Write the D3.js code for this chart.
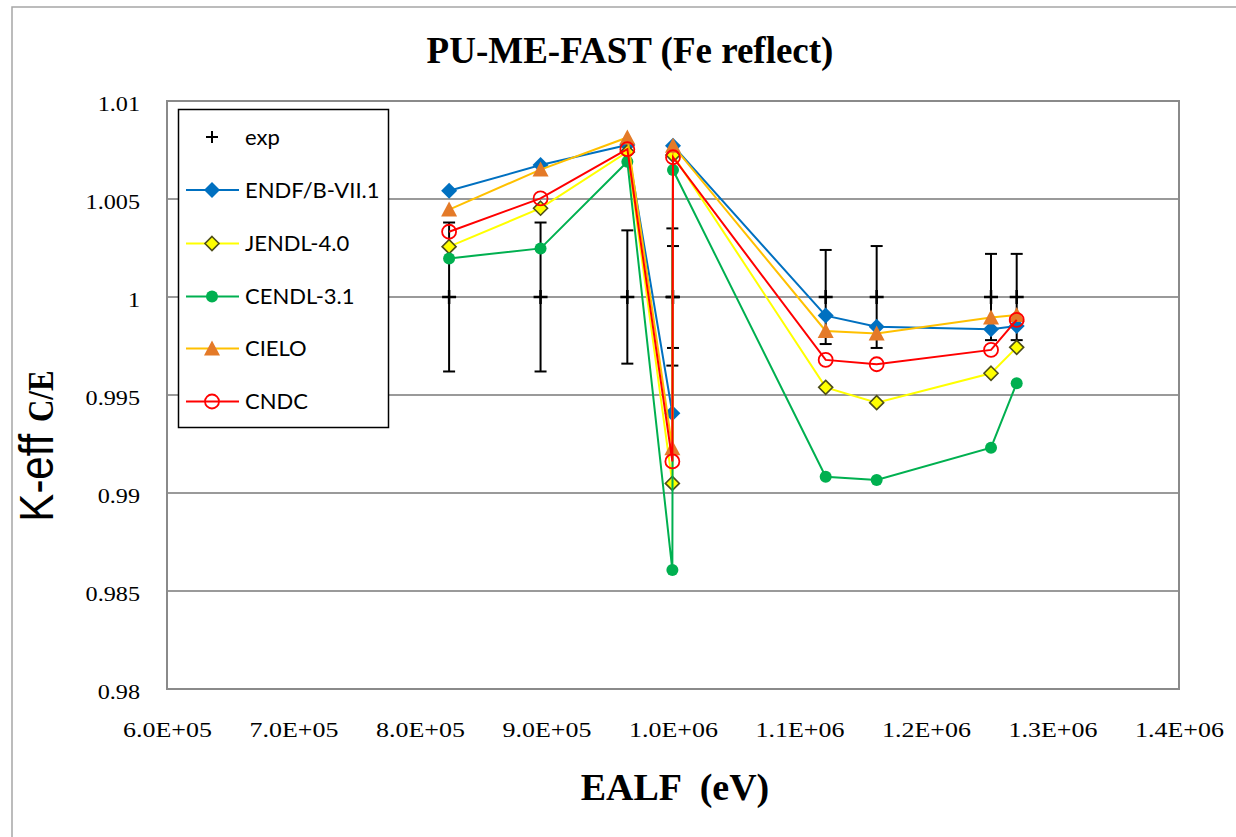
<!DOCTYPE html>
<html>
<head>
<meta charset="utf-8">
<script src="https://cdn.jsdelivr.net/npm/d3@7"></script>
<style>
  html, body { margin: 0; padding: 0; background: #fff; }
  svg { display: block; }
</style>
</head>
<body>
<svg id="chart" width="1236" height="837"></svg>
<script>
// ---- data ----
const ealf = [823000, 895300, 963900, 999500, 1000000, 1120700, 1161000, 1251400, 1271700];
const expVal = [1, 1, 1, 1, 1, 1, 1, 1, 1];
const expErr = [0.0038, 0.0038, 0.0034, 0.0035, 0.0026, 0.0024, 0.0026, 0.0022, 0.0022];
const endf  = [1.00542, 1.00673, 1.00776, 0.99407, 1.00772, 0.99905, 0.99848, 0.99835, 0.99852];
const jendl = [1.00257, 1.00453, 1.00740, 0.99049, 1.00724, 0.99539, 0.99461, 0.99611, 0.99743];
const cendl = [1.00197, 1.00248, 1.00690, 0.98607, 1.00648, 0.99083, 0.99066, 0.99231, 0.99560];
const cielo = [1.00446, 1.00650, 1.00814, 0.99228, 1.00772, 0.99827, 0.99814, 0.99895, 0.99908];
const cndc  = [1.00333, 1.00503, 1.00754, 0.99161, 1.00713, 0.99679, 0.99657, 0.99730, 0.99883];
const xTicks = [600000, 700000, 800000, 900000, 1000000, 1100000, 1200000, 1300000, 1400000];
const yTicks = [0.98, 0.985, 0.99, 0.995, 1, 1.005, 1.01];
const seriesNames = ["ENDF/B-VII.1", "JENDL-4.0", "CENDL-3.1", "CIELO", "CNDC"];

const svg = d3.select("#chart");
const L = 167, R = 1179, T = 101, B = 689;
const x = d3.scaleLinear().domain([600000, 1400000]).range([L, R]);
const y = d3.scaleLinear().domain([0.98, 1.01]).range([B, T]);
const SERIF = "'Liberation Serif', 'Times New Roman', serif";

// outer frame
svg.append("rect").attr("x", 12).attr("y", 7).attr("width", 1300).attr("height", 900)
  .attr("fill", "none").attr("stroke", "#a6a6a6").attr("stroke-width", 1.5);

// gridlines
svg.append("g").selectAll("line").data(yTicks).join("line")
  .attr("x1", L).attr("x2", R).attr("y1", d => y(d)).attr("y2", d => y(d))
  .attr("stroke", "#9a9a9a").attr("stroke-width", 2);

// plot border
svg.append("rect").attr("x", L).attr("y", T).attr("width", R - L).attr("height", B - T)
  .attr("fill", "none").attr("stroke", "#8a8a8a").attr("stroke-width", 2);

// axes
const fmtX = v => {
  const [m, e] = v.toExponential(1).split("e");
  const sign = e[0] === "-" ? "-" : "+";
  const ex = e.replace(/[+-]/, "").padStart(2, "0");
  return m + "E" + sign + ex;
};
const xAxis = svg.append("g").attr("transform", `translate(0,${B})`)
  .call(d3.axisBottom(x).tickValues(xTicks).tickFormat(fmtX).tickSize(0).tickPadding(48));
xAxis.select(".domain").remove();
xAxis.selectAll("text").attr("font-family", SERIF)
  .attr("font-size", 22).attr("fill", "#000").attr("dy", 0)
  .attr("transform", "scale(1.18,1)");

const ySX = 1.1;
const yAxis = svg.append("g").attr("transform", `translate(${L},0)`)
  .call(d3.axisLeft(y).tickValues(yTicks).tickFormat(d => String(+d.toFixed(3))).tickSize(0).tickPadding(27));
yAxis.select(".domain").remove();
yAxis.selectAll("text").attr("font-family", SERIF)
  .attr("font-size", 22).attr("fill", "#000").attr("x", -27 / ySX).attr("dy", "0.45em")
  .attr("transform", `scale(${ySX},1)`);

// titles
svg.append("text").attr("x", 630).attr("y", 63).attr("text-anchor", "middle")
  .attr("font-family", SERIF).attr("font-weight", "bold")
  .attr("font-size", 37).text("PU-ME-FAST (Fe reflect)");
svg.append("text").attr("x", 675).attr("y", 800).attr("text-anchor", "middle")
  .attr("font-family", SERIF).attr("font-weight", "bold")
  .attr("font-size", 38).attr("xml:space", "preserve").text("EALF  (eV)");
const yl = svg.append("text").attr("transform", "translate(53,446) scale(1.15,1) rotate(-90)").attr("text-anchor", "middle");
yl.append("tspan").attr("font-family", "'Liberation Sans', Arial, sans-serif").attr("font-size", 42).text("K-eff ");
yl.append("tspan").attr("font-family", SERIF).attr("font-weight", "bold")
  .attr("font-size", 31).text("C/E");

// exp with error bars
const expG = svg.append("g");
ealf.forEach((e, i) => {
  const cx = x(e), cy = y(expVal[i]);
  const y1 = y(expVal[i] + expErr[i]), y2 = y(expVal[i] - expErr[i]);
  expG.append("line").attr("x1", cx).attr("x2", cx).attr("y1", y1).attr("y2", y2).attr("stroke", "#000").attr("stroke-width", 2);
  [y1, y2].forEach(yy => expG.append("line").attr("x1", cx - 6).attr("x2", cx + 6).attr("y1", yy).attr("y2", yy).attr("stroke", "#000").attr("stroke-width", 2));
  expG.append("line").attr("x1", cx - 7).attr("x2", cx + 7).attr("y1", cy).attr("y2", cy).attr("stroke", "#000").attr("stroke-width", 2.5);
  expG.append("line").attr("x1", cx).attr("x2", cx).attr("y1", cy - 7).attr("y2", cy + 7).attr("stroke", "#000").attr("stroke-width", 2.5);
});

// marker painters
const markers = {
  diamondBlue: (g, cx, cy) => g.append("path").attr("d", `M${cx},${cy-8}L${cx+8},${cy}L${cx},${cy+8}L${cx-8},${cy}Z`).attr("fill", "#0070c0"),
  diamondYellow: (g, cx, cy) => g.append("path").attr("d", `M${cx},${cy-7}L${cx+7},${cy}L${cx},${cy+7}L${cx-7},${cy}Z`).attr("fill", "#ffff00").attr("stroke", "#4d4d1a").attr("stroke-width", 1.6),
  dotGreen: (g, cx, cy) => g.append("circle").attr("cx", cx).attr("cy", cy).attr("r", 6).attr("fill", "#00b050"),
  triangle: (g, cx, cy) => g.append("path").attr("d", `M${cx},${cy-8}L${cx+8},${cy+7}L${cx-8},${cy+7}Z`).attr("fill", "#e47a28"),
  openRed: (g, cx, cy) => g.append("circle").attr("cx", cx).attr("cy", cy).attr("r", 7).attr("fill", "none").attr("stroke", "#ff0000").attr("stroke-width", 1.8)
};

const series = [
  { name: seriesNames[0], vals: endf,  color: "#0070c0", marker: markers.diamondBlue },
  { name: seriesNames[1], vals: jendl, color: "#ffff00", marker: markers.diamondYellow },
  { name: seriesNames[2], vals: cendl, color: "#00b050", marker: markers.dotGreen },
  { name: seriesNames[3], vals: cielo, color: "#ffc000", marker: markers.triangle },
  { name: seriesNames[4], vals: cndc,  color: "#ff0000", marker: markers.openRed }
];

const line = d3.line().x(d => x(d[0])).y(d => y(d[1]));
series.forEach(s => {
  const g = svg.append("g");
  const pts = ealf.map((e, i) => [e, s.vals[i]]);
  g.append("path").attr("d", line(pts)).attr("fill", "none").attr("stroke", s.color).attr("stroke-width", 2);
  pts.forEach(p => s.marker(g, x(p[0]), y(p[1])));
});

// legend
const lg = svg.append("g");
lg.append("rect").attr("x", 178.5).attr("y", 109.5).attr("width", 210).attr("height", 318)
  .attr("fill", "#fff").attr("stroke", "#000").attr("stroke-width", 1.5);
const ly = [137, 190, 243.5, 296.5, 348.5, 401.5];
const legendText = (yy, t) => lg.append("text").attr("x", 245).attr("y", yy).attr("dy", "0.35em")
  .attr("font-family", "Lato, 'Liberation Sans', sans-serif").attr("font-size", 22).attr("fill", "#000").text(t);
lg.append("line").attr("x1", 206).attr("x2", 218).attr("y1", ly[0]).attr("y2", ly[0]).attr("stroke", "#000").attr("stroke-width", 2);
lg.append("line").attr("x1", 212).attr("x2", 212).attr("y1", ly[0] - 6).attr("y2", ly[0] + 6).attr("stroke", "#000").attr("stroke-width", 2);
legendText(ly[0], "exp");
series.forEach((s, i) => {
  const yy = ly[i + 1];
  lg.append("line").attr("x1", 186).attr("x2", 239).attr("y1", yy).attr("y2", yy).attr("stroke", s.color).attr("stroke-width", 2);
  s.marker(lg, 212, yy);
  legendText(yy, s.name);
});
</script>
</body>
</html>
